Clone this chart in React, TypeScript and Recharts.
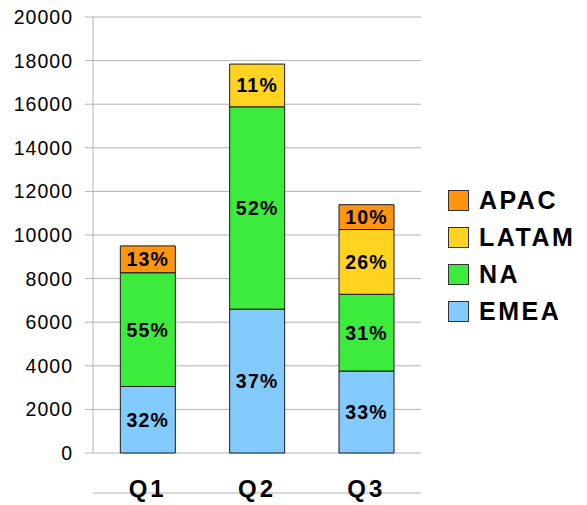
import React from 'react';
import { BarChart, Bar, XAxis, YAxis, CartesianGrid, LabelList, Legend } from 'recharts';

// Quarterly sales by region (stacked)
const quarters = ['Q1', 'Q2', 'Q3'];
const emea = [3050, 6600, 3760];
const na = [5220, 9280, 3520];
const latam = [0, 1960, 2970];
const apac = [1230, 0, 1140];
const yTicks = [0, 2000, 4000, 6000, 8000, 10000, 12000, 14000, 16000, 18000, 20000];

const series = [
  { key: 'EMEA', values: emea, color: '#83caff' },
  { key: 'NA', values: na, color: '#3deb3d' },
  { key: 'LATAM', values: latam, color: '#ffd320' },
  { key: 'APAC', values: apac, color: '#ff950e' },
];

const data = quarters.map((q, i) => ({
  quarter: q,
  EMEA: emea[i],
  NA: na[i],
  LATAM: latam[i],
  APAC: apac[i],
  total: emea[i] + na[i] + latam[i] + apac[i],
}));

const FONT = '"Liberation Sans", Arial, sans-serif';
const GRID = '#b3b3b3';

// share of the quarter's total, as the label text
const pctOf = (key: string) => (d: any) =>
  d[key] ? `${Math.round((d[key] / d.total) * 100)}%` : '';

const PercentLabel = (props: any) => {
  const { x, y, width, height, value } = props;
  if (!value) return null;
  return (
    <text
      x={x + width / 2}
      y={y + height / 2}
      dy={7}
      textAnchor="middle"
      fontFamily={FONT}
      fontWeight="bold"
      fontSize={19.5}
      letterSpacing={1.2}
      fill="#000"
    >
      {value}
    </text>
  );
};

const QuarterTick = (props: any) => {
  const { x, payload } = props;
  return (
    <text
      x={x}
      y={497}
      textAnchor="middle"
      fontFamily={FONT}
      fontWeight="bold"
      fontSize={24}
      letterSpacing={3}
      fill="#000"
    >
      {payload.value}
    </text>
  );
};

const LegendBox = () => (
  <div style={{ fontFamily: FONT }}>
    {[...series].reverse().map((s) => (
      <div key={s.key} style={{ display: 'flex', alignItems: 'center', height: 37 }}>
        <div
          style={{
            width: 21,
            height: 21,
            background: s.color,
            border: '1px solid #333',
            boxSizing: 'border-box',
            marginRight: 10,
          }}
        />
        <span style={{ fontSize: 25, fontWeight: 'bold', letterSpacing: 2.5, color: '#000' }}>
          {s.key}
        </span>
      </div>
    ))}
  </div>
);

export default function App() {
  return (
    <div style={{ position: 'absolute', left: 0, top: 0, background: '#fff' }}>
      <BarChart
        width={587}
        height={505}
        data={data}
        margin={{ top: 17, right: 166, bottom: 0, left: 0 }}
        barCategoryGap="25%"
      >
        <CartesianGrid xAxisId="cat" stroke={GRID} vertical={false} />
        <XAxis
          xAxisId="edge"
          type="number"
          domain={[0, 3]}
          ticks={[0, 1, 2, 3]}
          tick={false}
          tickSize={10}
          stroke={GRID}
          height={12}
        />
        <XAxis
          xAxisId="cat"
          dataKey="quarter"
          axisLine={false}
          tickLine={false}
          tick={<QuarterTick />}
          height={40}
        />
        <YAxis
          domain={[0, 20000]}
          ticks={yTicks}
          interval={0}
          width={93}
          tickSize={8}
          tickMargin={12}
          stroke={GRID}
          tick={{ fill: '#000', fontSize: 19.5, fontFamily: FONT, letterSpacing: 1 }}
        />
        <YAxis
          yAxisId="right"
          orientation="right"
          width={0}
          tick={false}
          tickLine={false}
          stroke={GRID}
        />
        <Legend
          layout="vertical"
          align="center"
          verticalAlign="middle"
          content={<LegendBox />}
          wrapperStyle={{ position: 'absolute', left: 448, top: 182, width: 140 }}
        />
        {series.map((s) => (
          <Bar
            key={s.key}
            xAxisId="cat"
            dataKey={s.key}
            stackId="a"
            fill={s.color}
            stroke="#1a1a1a"
            strokeWidth={1}
            isAnimationActive={false}
          >
            <LabelList dataKey={pctOf(s.key)} content={<PercentLabel />} />
          </Bar>
        ))}
      </BarChart>
    </div>
  );
}
